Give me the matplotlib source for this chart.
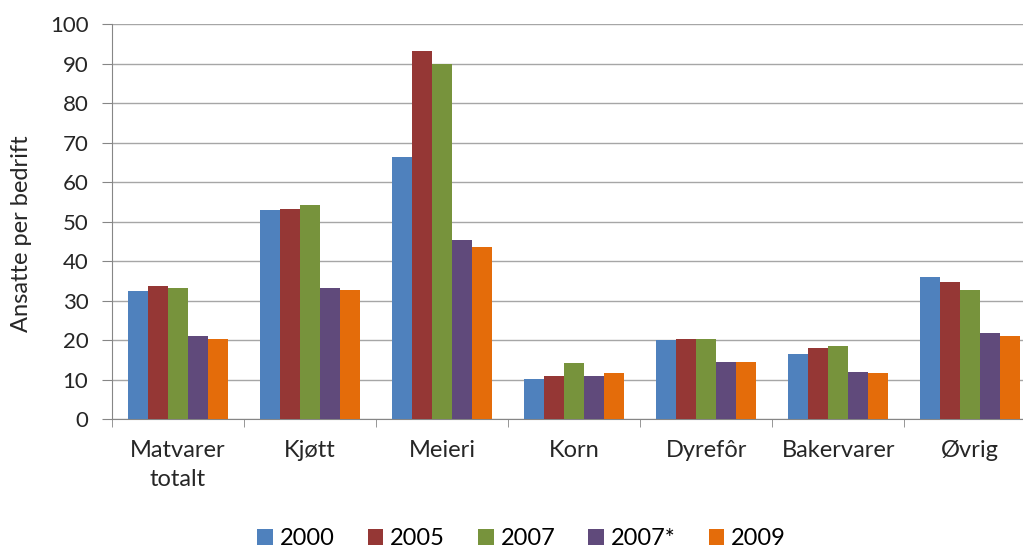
import numpy as np
import matplotlib.pyplot as plt

plt.rcParams['font.family'] = ['Lato', 'DejaVu Sans']

categories = ['Matvarer\ntotalt', 'Kjøtt', 'Meieri', 'Korn', 'Dyrefôr', 'Bakervarer', 'Øvrig']
series_names = ['2000', '2005', '2007', '2007*', '2009']
v2000 = [32.4, 53.0, 66.4, 10.3, 20.0, 16.5, 36.0]
v2005 = [33.7, 53.2, 93.2, 11.0, 20.3, 18.1, 34.8]
v2007 = [33.3, 54.2, 90.0, 14.3, 20.3, 18.6, 32.8]
v2007s = [21.0, 33.3, 45.3, 11.0, 14.5, 12.0, 21.8]
v2009 = [20.4, 32.7, 43.5, 11.7, 14.5, 11.7, 21.1]
colors = ['#4f81bd', '#953735', '#77933c', '#604a7b', '#e46c0a']

fig = plt.figure(figsize=(10.23, 5.53), dpi=100)
ax = fig.add_axes([0.1095, 0.242, 0.8905, 0.714])

x = np.arange(len(categories))
w = 0.152
for i, (name, vals) in enumerate(zip(series_names, [v2000, v2005, v2007, v2007s, v2009])):
    ax.bar(x + (i - 2) * w, vals, w, color=colors[i], label=name, zorder=3)

ax.set_ylim(0, 100)
ax.set_yticks(range(0, 101, 10))
ax.set_xlim(-0.5, 6.4)
ax.set_xticks(x)
ax.set_xticklabels(categories, fontsize=17, va='top', linespacing=1.45)
ax.tick_params(axis='x', length=0, pad=15, colors='#262626')
ax.set_xticks(np.arange(-0.5, 6.5, 1), minor=True)
ax.tick_params(axis='x', which='minor', length=6, color='#868686')
ax.tick_params(axis='y', labelsize=16, length=7, pad=10, color='#868686', labelcolor='#262626')
ax.grid(axis='y', color='#a6a6a6', linewidth=1, zorder=0)
for s in ['top', 'right']:
    ax.spines[s].set_visible(False)
ax.spines['left'].set_color('#868686')
ax.spines['bottom'].set_color('#868686')
ax.set_ylabel('Ansatte per bedrift', fontsize=17, color='#262626')
ax.yaxis.set_label_coords(-0.088, 0.47)

fig.legend(loc='lower center', bbox_to_anchor=(0.51, -0.032), ncol=5, frameon=False,
           fontsize=17, handlelength=0.65, handleheight=0.65, handletextpad=0.3, columnspacing=1.4)

fig.savefig('out.png', dpi=100)
